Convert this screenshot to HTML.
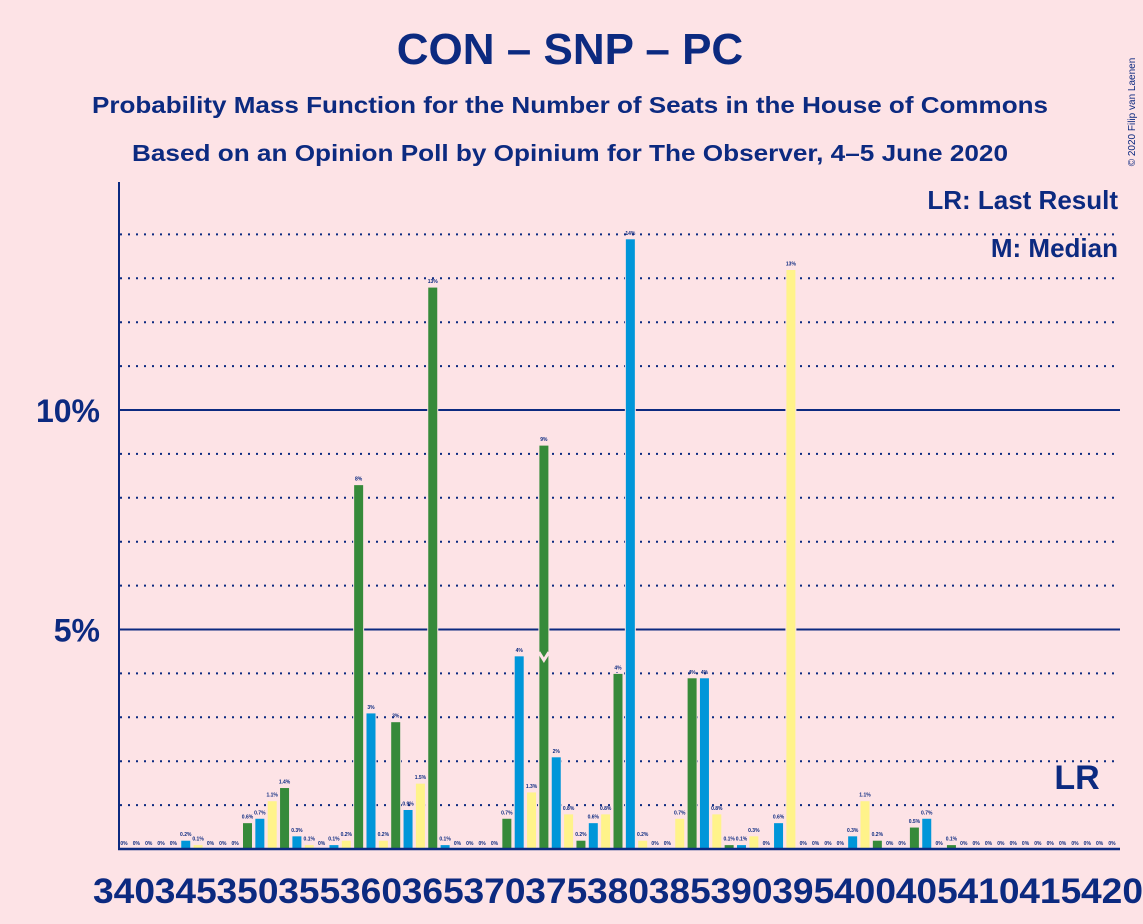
<!DOCTYPE html>
<html><head><meta charset="utf-8"><style>
body{margin:0;background:#fde3e6;}
svg{display:block;font-family:"Liberation Sans",sans-serif;}
</style></head><body>
<svg id="chart" width="1143" height="924" viewBox="0 0 1143 924" xmlns="http://www.w3.org/2000/svg">
<rect width="1143" height="924" fill="#fde3e6"/>
<text x="570" y="64" text-anchor="middle" font-size="44" font-weight="bold" fill="#0c2a80">CON – SNP – PC</text>
<text x="570" y="113" text-anchor="middle" font-size="23" font-weight="bold" fill="#0c2a80" textLength="956" lengthAdjust="spacingAndGlyphs">Probability Mass Function for the Number of Seats in the House of Commons</text>
<text x="570" y="161" text-anchor="middle" font-size="23" font-weight="bold" fill="#0c2a80" textLength="876" lengthAdjust="spacingAndGlyphs">Based on an Opinion Poll by Opinium for The Observer, 4–5 June 2020</text>
<text x="1135" y="112" font-size="10" fill="#0c2a80" transform="rotate(-90 1135 112)" text-anchor="middle">© 2020 Filip van Laenen</text>
<g id="grid"></g>
<g id="bars"></g>
<g id="xlabels"></g>
<line x1="119" y1="182" x2="119" y2="850" stroke="#0c2a80" stroke-width="2"/>
<line x1="118" y1="849" x2="1120" y2="849" stroke="#0c2a80" stroke-width="2.5"/>
<text x="1118" y="209" text-anchor="end" font-size="26" font-weight="bold" fill="#0c2a80">LR: Last Result</text>
<text x="1118" y="257" text-anchor="end" font-size="26" font-weight="bold" fill="#0c2a80">M: Median</text>
<text x="1077" y="789" text-anchor="middle" font-size="34" font-weight="bold" fill="#0c2a80">LR</text>
</svg>
<script>
const seats = [];
for (let s = 340; s <= 420; s++) seats.push(s);
const probs = [0,0,0,0,0,0.2,0.1,0,0,0,
0.6,0.7,1.1,1.4,0.3,0.1,0,0.1,0.2,8.3,
3.1,0.2,2.9,0.9,1.5,12.8,0.1,0,0,0,
0,0.7,4.4,1.3,9.2,2.1,0.8,0.2,0.6,0.8,
4.0,13.9,0.2,0,0,0.7,3.9,3.9,0.8,0.1,
0.1,0.3,0,0.6,13.2,0,0,0,0,0.3,
1.1,0.2,0,0,0.5,0.7,0,0.1,0,0,
0,0,0,0,0,0,0,0,0,0,0];
const yTicks = [5, 10];
const yTickLabels = ["5%", "10%"];
const medianSeat = 374;
const colors = ["#368a3a", "#0096d9", "#fff38a"];
const NS = "http://www.w3.org/2000/svg";
function xPos(s){ return 124 + (s - 340) * 12.35; }
function yPos(v){ return 849 - v * 43.9; }
const grid = document.getElementById('grid');
for (let p = 1; p <= 14; p++) {
  const l = document.createElementNS(NS, 'line');
  
  
  l.setAttribute('x1', 120); l.setAttribute('x2', 1120);
  l.setAttribute('y1', yPos(p)); l.setAttribute('y2', yPos(p));
  l.setAttribute('stroke', '#0c2a80');
  l.setAttribute('stroke-width', 2);
  if (p % 5 !== 0) l.setAttribute('stroke-dasharray', '2 6');
  grid.appendChild(l);
}
yTicks.forEach((t, i) => {
  const tx = document.createElementNS(NS, 'text');
  
  
  tx.setAttribute('x', 100); tx.setAttribute('y', yPos(t) + 12);
  tx.setAttribute('text-anchor', 'end'); tx.setAttribute('font-size', 32);
  tx.setAttribute('font-weight', 'bold'); tx.setAttribute('fill', '#0c2a80');
  tx.textContent = yTickLabels[i];
  grid.appendChild(tx);
});
const bars = document.getElementById('bars');
seats.forEach((s, i) => {
  const v = probs[i];
  const c = colors[(((s - 350) % 3) + 3) % 3];
  const x = xPos(s);
  if (v > 0) {
    const r = document.createElementNS(NS, 'rect');
    
    
    r.setAttribute('x', x - 5); r.setAttribute('width', 10);
    r.setAttribute('y', yPos(v)); r.setAttribute('height', 849 - yPos(v));
    r.setAttribute('fill', c); r.setAttribute('stroke', '#fde3e6'); r.setAttribute('stroke-width', 1);
    bars.appendChild(r);
  }
  const t = document.createElementNS(NS, 'text');
  
  
  t.setAttribute('x', x); t.setAttribute('y', yPos(v) - 4);
  t.setAttribute('text-anchor', 'middle'); t.setAttribute('font-size', 5);
  t.setAttribute('font-weight', 'bold'); t.setAttribute('fill', '#0c2a80');
  t.textContent = v === 0 ? '0%' : (v >= 2 ? Math.round(v) + '%' : v.toFixed(1) + '%');
  bars.appendChild(t);
  if (s === medianSeat) {
    const m = document.createElementNS(NS, 'polyline');
    
    
    const ym = yPos(4.3);
    m.setAttribute('points', (x-5)+','+(ym-8)+' '+x+','+ym+' '+(x+5)+','+(ym-8));
    m.setAttribute('fill', 'none'); m.setAttribute('stroke', '#fde3e6'); m.setAttribute('stroke-width', 3);
    bars.appendChild(m);
  }
});
const xl = document.getElementById('xlabels');
seats.filter(s => s % 5 === 0).forEach(s => {
  const t = document.createElementNS(NS, 'text');
  
  
  t.setAttribute('x', xPos(s)); t.setAttribute('y', 903);
  t.setAttribute('text-anchor', 'middle'); t.setAttribute('font-size', 35);
  t.setAttribute('font-weight', 'bold'); t.setAttribute('fill', '#0c2a80');
  t.setAttribute('textLength', 62); t.setAttribute('lengthAdjust', 'spacingAndGlyphs');
  t.textContent = s;
  xl.appendChild(t);
});
</script>
</body></html>
